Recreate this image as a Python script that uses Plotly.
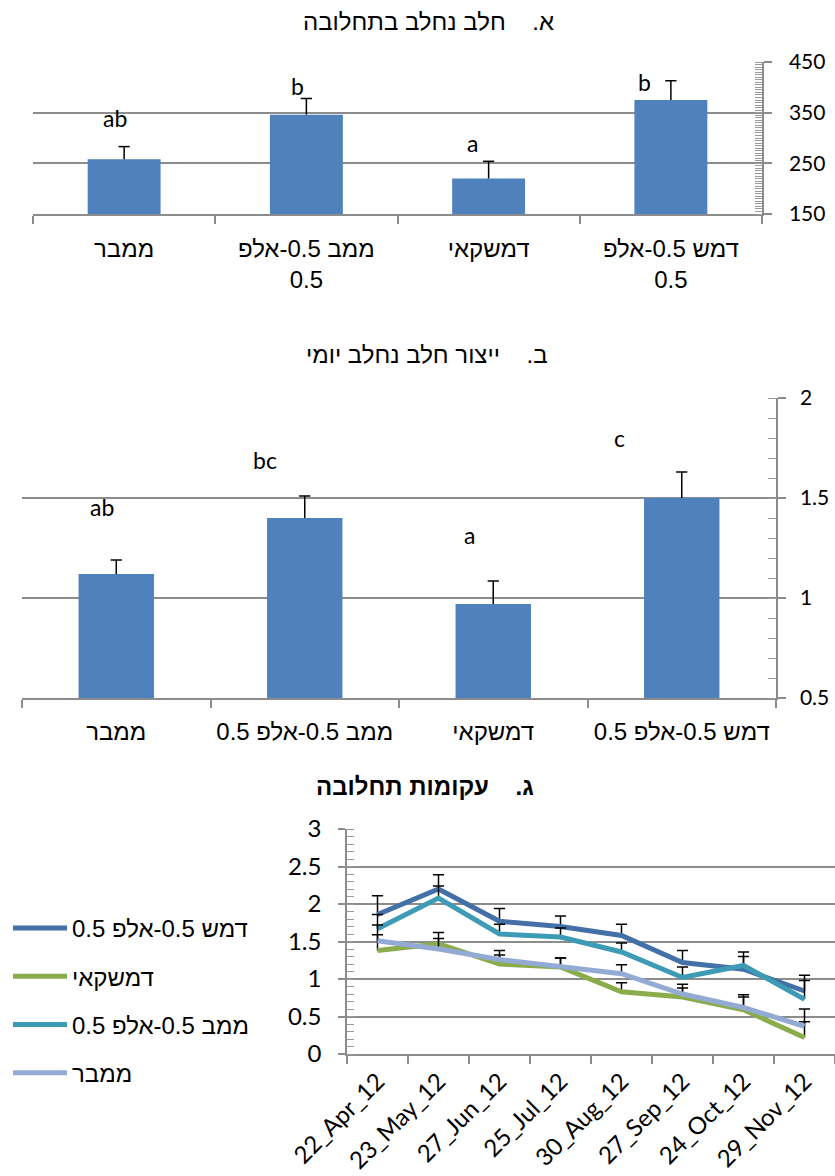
import plotly.graph_objects as go

W, H = 835, 1176

# ---------- data ----------
groups = ["ממבר", "ממב 0.5-אלפ 0.5", "דמשקאי", "דמש 0.5-אלפ 0.5"]
groups_wrapped = ["ממבר", "ממב 0.5-אלפ<br>0.5", "דמשקאי", "דמש 0.5-אלפ<br>0.5"]

# A: milk per lactation
milk_lact = [258, 346, 220, 375]
milk_lact_err = [25, 32, 34, 38]
milk_lact_letters = ["ab", "b", "a", "b"]

# B: daily milk yield
milk_daily = [1.12, 1.40, 0.97, 1.50]
milk_daily_err = [0.07, 0.11, 0.115, 0.13]
milk_daily_letters = ["ab", "bc", "a", "c"]

# C: lactation curves
dates = ["22_Apr_12", "23_May_12", "27_Jun_12", "25_Jul_12",
         "30_Aug_12", "27_Sep_12", "24_Oct_12", "29_Nov_12"]
series_names = ["דמש 0.5-אלפ 0.5", "דמשקאי", "ממב 0.5-אלפ 0.5", "ממבר"]
damash = [1.86, 2.20, 1.77, 1.70, 1.58, 1.22, 1.13, 0.84]
damash_err = [0.25, 0.19, 0.17, 0.14, 0.15, 0.16, 0.17, 0.21]
damascus = [1.38, 1.47, 1.20, 1.16, 0.83, 0.76, 0.59, 0.22]
damascus_err = [0.21, 0.15, 0.12, 0.12, 0.12, 0.12, 0.17, 0.21]
memav = [1.67, 2.08, 1.60, 1.56, 1.36, 1.02, 1.18, 0.73]
memav_err = [0.19, 0.16, 0.13, 0.12, 0.12, 0.14, 0.18, 0.25]
memaver = [1.51, 1.40, 1.26, 1.17, 1.07, 0.80, 0.62, 0.37]
memaver_err = [0.21, 0.14, 0.12, 0.11, 0.12, 0.13, 0.17, 0.23]

# ---------- styles ----------
BAR = "#4F81BD"
GRID = "#8C8C8C"
MINOR = "#9A9A9A"
LINE_COLORS = ["#4470A8", "#8BAC4B", "#3E9BB5", "#93ABD4"]
NUM_FONT = "Lato, Liberation Sans, sans-serif"
HEB_FONT = "Liberation Sans, Arial, sans-serif"

# letter positions (data units) and horizontal nudges (px)
letters_a_y = [340, 403, 291, 411]
letters_a_dx = [-9, -9, -16, -26]
letters_b_y = [1.455, 1.69, 1.315, 1.80]
letters_b_dx = [-14, -40, -24, -62]


def px_x(a, b):
    return [a / W, b / W]


def px_y(top, bottom):
    return [1 - bottom / H, 1 - top / H]


def plus_only(err):
    return dict(type="data", array=err, arrayminus=[0] * len(err), symmetric=False,
                color="black", thickness=1.5, width=0, visible=True)


def caps(x, y, err, xa, ya):
    return go.Scatter(x=x, y=[v + e for v, e in zip(y, err)], xaxis=xa, yaxis=ya,
                      mode="markers", showlegend=False, hoverinfo="skip",
                      marker=dict(symbol="line-ew", size=8, color="black",
                                  line=dict(width=1.5, color="black")))


fig = go.Figure()

# ---- A ----
fig.add_trace(go.Bar(x=groups, y=milk_lact, width=0.4, marker_color=BAR,
                     marker_line_width=0, error_y=plus_only(milk_lact_err),
                     xaxis="x", yaxis="y", showlegend=False))
fig.add_trace(caps(groups, milk_lact, milk_lact_err, "x", "y"))

# ---- B ----
fig.add_trace(go.Bar(x=groups, y=milk_daily, width=0.4, marker_color=BAR,
                     marker_line_width=0, error_y=plus_only(milk_daily_err),
                     xaxis="x2", yaxis="y2", showlegend=False))
fig.add_trace(caps(groups, milk_daily, milk_daily_err, "x2", "y2"))

# ---- C ----
series = [(damash, damash_err), (damascus, damascus_err),
          (memav, memav_err), (memaver, memaver_err)]
for i, (name, (vals, errs)) in enumerate(zip(series_names, series)):
    fig.add_trace(go.Scatter(x=dates, y=vals, name=name, mode="lines",
                             line=dict(color=LINE_COLORS[i], width=5),
                             error_y=plus_only(errs),
                             legendgroup=f"g{i}",
                             xaxis="x3", yaxis="y3"))
    fig.add_trace(caps(dates, vals, errs, "x3", "y3"))

annotations = []
for g, t, yy, dx in zip(groups, milk_lact_letters, letters_a_y, letters_a_dx):
    annotations.append(dict(x=g, y=yy, xref="x", yref="y", text=t, showarrow=False,
                            xshift=dx, font=dict(family=NUM_FONT, size=23, color="black")))
for g, t, yy, dx in zip(groups, milk_daily_letters, letters_b_y, letters_b_dx):
    annotations.append(dict(x=g, y=yy, xref="x2", yref="y2", text=t, showarrow=False,
                            xshift=dx, font=dict(family=NUM_FONT, size=23, color="black")))

titles = [("א.\u00a0\u00a0\u00a0 חלב נחלב בתחלובה", 428, 22, False),
          ("ב.\u00a0\u00a0\u00a0 ייצור חלב נחלב יומי", 427, 355, False),
          ("ג.\u00a0\u00a0\u00a0 עקומות תחלובה", 425, 786, True)]
for txt, cx, cy, bold in titles:
    annotations.append(dict(x=cx / W, y=1 - cy / H, xref="paper", yref="paper",
                            text=f"<b>{txt}</b>" if bold else txt, showarrow=False,
                            xanchor="center", yanchor="middle",
                            font=dict(family=HEB_FONT, size=24, color="black")))

cat_axis = dict(type="category", showgrid=False, showline=True, linecolor=GRID,
                linewidth=1.5, ticks="outside", ticklen=8, tickcolor=GRID, tickwidth=1.5,
                tickson="boundaries", zeroline=False, automargin=False,
                tickfont=dict(family=HEB_FONT, size=24, color="black"))
val_axis = dict(showgrid=True, gridcolor=GRID, gridwidth=1.5, showline=True,
                linecolor=GRID, linewidth=1.5, ticks="outside", ticklen=8,
                tickcolor=GRID, tickwidth=1.5, zeroline=False, automargin=False,
                tickfont=dict(family=NUM_FONT, size=21, color="black"))

fig.update_layout(
    width=W, height=H, margin=dict(l=0, r=0, t=0, b=0, autoexpand=False),
    paper_bgcolor="white", plot_bgcolor="white",
    annotations=annotations,
    xaxis=dict(cat_axis, domain=px_x(33, 762), anchor="y", range=[-0.5, 3.5],
               tickvals=groups, ticktext=groups_wrapped, ticklabelstandoff=12),
    yaxis=dict(val_axis, domain=px_y(62, 214), anchor="x", side="right",
               range=[150, 450], tickvals=[150, 250, 350, 450], ticklabelstandoff=13,
               minor=dict(dtick=5, ticks="inside", ticklen=7, tickcolor=MINOR,
                          tickwidth=1, showgrid=False)),
    xaxis2=dict(cat_axis, domain=px_x(22, 776), anchor="y2", range=[-0.5, 3.5],
                ticklabelstandoff=11),
    yaxis2=dict(val_axis, domain=px_y(398, 698), anchor="x2", side="right",
                range=[0.5, 2.0], dtick=0.5, ticklabelstandoff=10,
                minor=dict(dtick=0.1, ticks="inside", ticklen=8, tickcolor=MINOR,
                           tickwidth=1, showgrid=False)),
    xaxis3=dict(cat_axis, domain=px_x(347, 835), anchor="y3", range=[-0.5, 7.5],
                tickangle=-45, ticklabelstandoff=2,
                tickfont=dict(family=NUM_FONT, size=24, color="black")),
    yaxis3=dict(val_axis, domain=px_y(829, 1054), anchor="x3", side="left",
                range=[0, 3], dtick=0.5, ticklen=7, ticklabelstandoff=12,
                tickfont=dict(family=NUM_FONT, size=24, color="black"),
                minor=dict(dtick=0.1, ticks="inside", ticklen=7, tickcolor=MINOR,
                           tickwidth=1, showgrid=False)),
    showlegend=True,
    legend=dict(x=8 / W, y=1 - 906 / H, xanchor="left", yanchor="top",
                font=dict(family=HEB_FONT, size=24, color="black"),
                itemwidth=54, tracegroupgap=14, bgcolor="rgba(0,0,0,0)"),
)

fig.write_html("out.html")
